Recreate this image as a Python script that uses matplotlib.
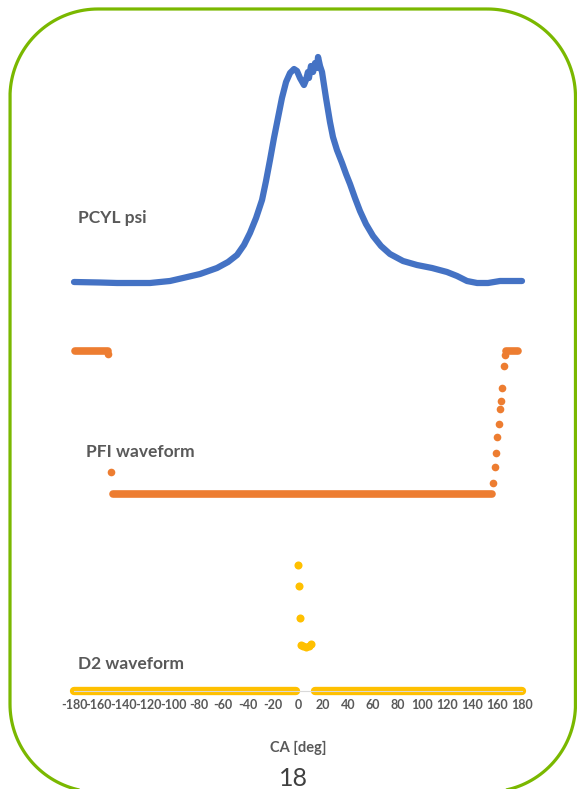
import numpy as np
import matplotlib
matplotlib.use('Agg')
import matplotlib.pyplot as plt
from matplotlib.path import Path
from matplotlib.patches import PathPatch

plt.rcParams['font.family'] = ['Lato', 'DejaVu Sans']
plt.rcParams['axes.unicode_minus'] = False

# crank angle ticks
ca_ticks = list(range(-180, 181, 20))

# PCYL psi trace (CA deg, signal units)
pcyl_ca = [-180, -159.1, -145.4, -118.9, -102.9, -92.4, -78.7, -65.1, -56.2, -49.0,
           -43.4, -38.6, -33.7, -28.9, -25.7, -22.5, -19.3, -16.1, -12.9, -9.6,
           -6.4, -3.2, -0.8, 1.6, 4.8, 6.4, 8.0, 8.8, 10.4, 12.1,
           13.7, 15.3, 16.1, 17.7, 19.3, 20.9, 22.5, 24.1, 25.7, 28.1,
           31.3, 35.4, 38.6, 41.8, 45.8, 49.8, 54.6, 60.3, 66.7, 73.9,
           84.4, 95.6, 107.7, 119.7, 127.8, 135.8, 143.9, 152.7, 162.3, 180]
pcyl_val = [0, -0.5, -1, -1, 1, 4, 8, 14, 20, 27,
            37, 49, 64, 82, 101, 122, 144, 164, 184, 200,
            209, 213, 211, 204, 197, 202, 210, 204, 216, 210,
            219, 214, 225, 216, 210, 197, 184, 172, 160, 145,
            132, 119, 108, 98, 84, 71, 58, 46, 36, 28,
            21, 17, 14, 10, 6, 1, -1, -1, 1, 1]

# PFI waveform: flat runs (start CA, end CA, level) and single samples
pfi_runs = [(-179.0, -153.0, 143), (-148.3, 155.5, 0), (167.2, 176.4, 143)]
pfi_ca = [-152.3, -150.5, 156.9, 158.3, 159.1, 160.2, 161.5, 162.3, 163.1, 164.2, 165.3, 166.4]
pfi_val = [140, 22, 10.7, 27.3, 41.3, 57.3, 70, 84.7, 92.7, 106.3, 128.3, 139]

# D2 waveform
d2_runs = [(-180.0, -1.6, 0), (13.3, 180.0, 0)]
d2_ca = [-0.2, 0.8, 1.6, 2.6, 4.0, 6.4, 8.8, 10.4]
d2_val = [126, 105, 73, 46, 45, 44, 45, 47]

series_names = ['PCYL psi', 'PFI waveform', 'D2 waveform']

blue = '#4472C4'
orange = '#ED7D31'
yellow = '#FFC000'
grey = '#595959'

fig = plt.figure(figsize=(5.77, 7.89), dpi=100)

# slide frame drawn in pixel units (y down)
bg = fig.add_axes([0, 0, 1, 1])
bg.set_xlim(0, 577)
bg.set_ylim(789, 0)
bg.axis('off')
x0, x1, y0, y1, r = 10, 575.5, 9, 792, 88
corners = [(x1 - r, y0 + r, -90, 0), (x1 - r, y1 - r, 0, 90),
           (x0 + r, y1 - r, 90, 180), (x0 + r, y0 + r, 180, 270)]
pts = []
for cx, cy, a0, a1 in corners:
    t = np.radians(np.linspace(a0, a1, 40))
    pts += list(zip(cx + r * np.cos(t), cy + r * np.sin(t)))
pts.append(pts[0])
bg.add_patch(PathPatch(Path(pts), fill=False, ec='#7AB800', lw=2.3))

ax = fig.add_axes([74 / 577, 98 / 789, 448 / 577, 651 / 789])
ax.set_xlim(-180, 180)
ax.set_ylim(0, 651)
ax.patch.set_alpha(0)
for s in ['left', 'top', 'right']:
    ax.spines[s].set_visible(False)
ax.spines['bottom'].set_color('#D9D9D9')
ax.set_yticks([])
ax.set_xticks(ca_ticks)
ax.set_xticklabels([str(t) for t in ca_ticks], fontweight='bold')
ax.tick_params(axis='x', length=0, pad=6, labelsize=9, labelcolor=grey)

off_pcyl, off_pfi, off_d2 = 409, 197, 0

ax.plot(pcyl_ca, np.array(pcyl_val) + off_pcyl, color=blue, lw=4.5,
        solid_capstyle='round', solid_joinstyle='round', clip_on=False)

for a, b, v in pfi_runs:
    ax.plot([a, b], [v + off_pfi, v + off_pfi], color=orange, lw=5.5,
            solid_capstyle='round', clip_on=False)
ax.plot(pfi_ca, np.array(pfi_val) + off_pfi, 'o', color=orange, ms=5.5, mec='none', clip_on=False)

for a, b, v in d2_runs:
    ax.plot([a, b], [v + off_d2, v + off_d2], color=yellow, lw=6,
            solid_capstyle='round', clip_on=False)
ax.plot(d2_ca, np.array(d2_val) + off_d2, 'o', color=yellow, ms=5.8, mec='none', clip_on=False)

lab_kw = dict(ha='left', va='center', fontsize=12.5, fontweight='bold', color=grey)
ax.text(-176.8, 473, series_names[0], **lab_kw)
ax.text(-170.4, 239, series_names[1], **lab_kw)
ax.text(-176.8, 27, series_names[2], **lab_kw)

fig.text(298 / 577, 1 - 748 / 789, 'CA [deg]', ha='center', va='center',
         fontsize=10.5, fontweight='bold', color=grey)
fig.text(293 / 577, 1 - 778 / 789, '18', ha='center', va='center',
         fontsize=18, color='#404040')

fig.savefig('out.png', dpi=100)
